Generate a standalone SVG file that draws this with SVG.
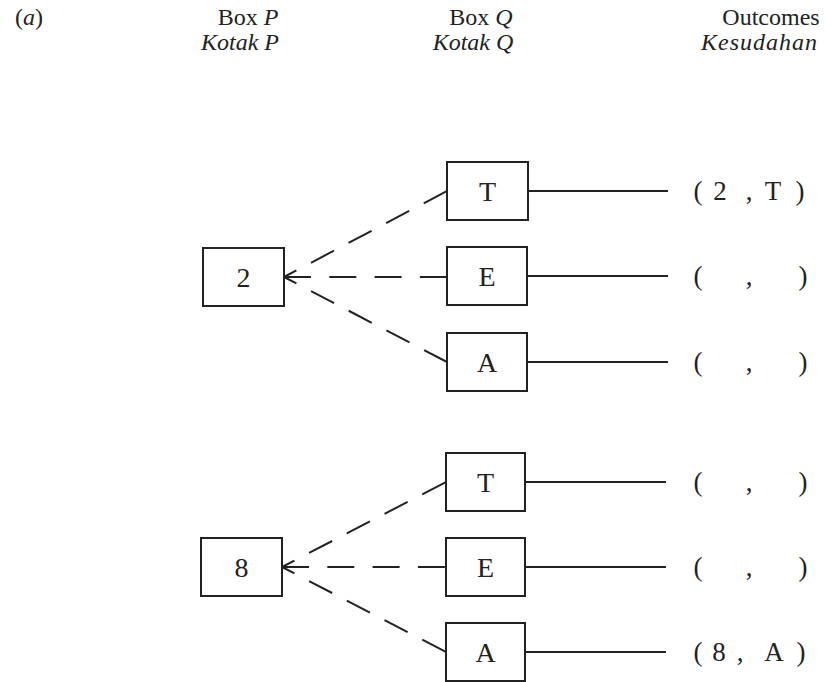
<svg xmlns="http://www.w3.org/2000/svg" width="826" height="682" viewBox="0 0 826 682">
<style>
.hd{font-family:"Liberation Serif","Times New Roman",serif;font-size:24px;fill:#222;text-anchor:middle}
.it{font-style:italic}
.box rect{fill:#fff;stroke:#222;stroke-width:2}
.box text{font-family:"Liberation Serif","Times New Roman",serif;font-size:28px;fill:#222;text-anchor:middle}
.dh{stroke:#222;stroke-width:2;fill:none;stroke-dasharray:27 18.3}
.dd{stroke:#222;stroke-width:2;fill:none;stroke-dasharray:14 16.5 26 16.5 26 16.5 26 16.5 26 100}
.solid{stroke:#222;stroke-width:2;fill:none}
.out{font-family:"Liberation Serif","Times New Roman",serif;font-size:27px;fill:#222;text-anchor:middle}
</style>
<rect width="826" height="682" fill="#fff"/>
<g id="headers">
<text class="hd" x="29" y="25">(<tspan class="it">a</tspan>)</text>
<text class="hd" x="248" y="25">Box <tspan class="it">P</tspan></text>
<text class="hd it" x="240" y="50">Kotak P</text>
<text class="hd" x="481" y="25">Box <tspan class="it">Q</tspan></text>
<text class="hd it" x="473" y="50">Kotak Q</text>
<text class="hd" x="771" y="25">Outcomes</text>
<text class="hd it" x="759" y="50" textLength="116">Kesudahan</text>
</g>
<g id="connectors">
<line class="dd" x1="284" y1="277" x2="447" y2="191"/>
<line class="dh" x1="284" y1="277" x2="447" y2="277"/>
<line class="dd" x1="284" y1="277" x2="447" y2="362"/>
<line class="solid" x1="528" y1="191" x2="668" y2="191"/>
<line class="solid" x1="527" y1="276" x2="668" y2="276"/>
<line class="solid" x1="527" y1="362" x2="668" y2="362"/>
<line class="dd" x1="282" y1="567" x2="446" y2="482"/>
<line class="dh" x1="282" y1="567" x2="446" y2="567"/>
<line class="dd" x1="282" y1="567" x2="446" y2="652"/>
<line class="solid" x1="525" y1="482" x2="666" y2="482"/>
<line class="solid" x1="525" y1="567" x2="666" y2="567"/>
<line class="solid" x1="525" y1="652" x2="666" y2="652"/>
</g>
<g id="boxP2" class="box"><rect x="203" y="248" width="81" height="58"/><text x="243.5" y="287">2</text></g>
<g id="boxP8" class="box"><rect x="201" y="538" width="81" height="58"/><text x="241.5" y="577">8</text></g>
<g id="boxQ1T" class="box"><rect x="447" y="162" width="81" height="58"/><text x="487.5" y="201">T</text></g>
<g id="boxQ1E" class="box"><rect x="447" y="247" width="80" height="58"/><text x="487" y="286">E</text></g>
<g id="boxQ1A" class="box"><rect x="447" y="333" width="80" height="58"/><text x="487" y="372">A</text></g>
<g id="boxQ2T" class="box"><rect x="446" y="453" width="79" height="58"/><text x="485.5" y="492">T</text></g>
<g id="boxQ2E" class="box"><rect x="446" y="538" width="79" height="58"/><text x="485.5" y="577">E</text></g>
<g id="boxQ2A" class="box"><rect x="446" y="623" width="79" height="58"/><text x="485.5" y="662">A</text></g>
<g id="outcomes" class="out">
<text x="698" y="200">(</text><text x="720" y="200">2</text><text x="749" y="200">,</text><text x="773" y="200">T</text><text x="800" y="200">)</text>
<text x="698" y="285">(</text><text x="749" y="285">,</text><text x="803" y="285">)</text>
<text x="698" y="371">(</text><text x="749" y="371">,</text><text x="803" y="371">)</text>
<text x="698" y="491">(</text><text x="749" y="491">,</text><text x="803" y="491">)</text>
<text x="698" y="576">(</text><text x="749" y="576">,</text><text x="803" y="576">)</text>
<text x="698" y="661">(</text><text x="719" y="661">8</text><text x="740" y="661">,</text><text x="774" y="661">A</text><text x="801" y="661">)</text>
</g>
</svg>
